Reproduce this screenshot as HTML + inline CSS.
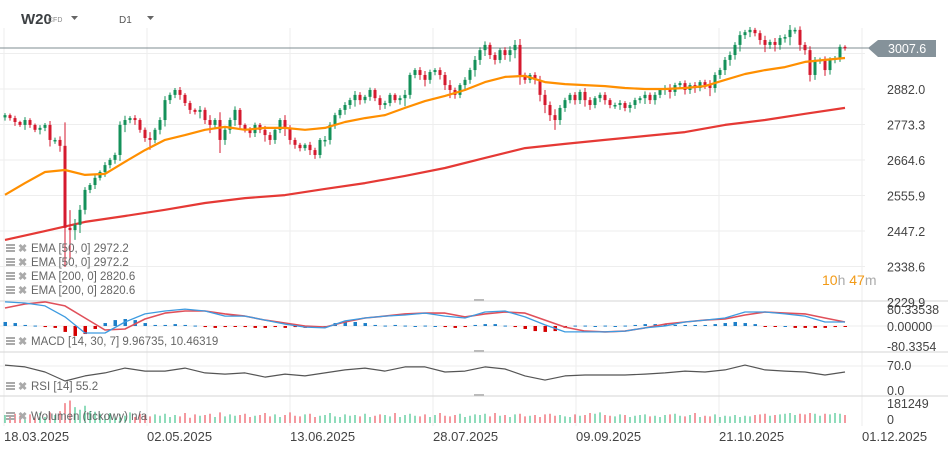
<!DOCTYPE html>
<html><head><meta charset="utf-8">
<style>
html,body{margin:0;padding:0;background:#fff;width:948px;height:449px;overflow:hidden;font-family:"Liberation Sans",sans-serif;}
svg{position:absolute;left:0;top:0;}
</style></head>
<body>
<svg id="chart" width="948" height="449" viewBox="0 0 948 449" xmlns="http://www.w3.org/2000/svg">
  <g id="grid"></g>
  <g id="header">
    <text x="21" y="24" font-size="15" font-weight="bold" fill="#3c4043">W20</text>
    <text x="48" y="22" font-size="7" fill="#888">CFD</text>
    <path d="M71 16 L78 16 L74.5 20 Z" fill="#666"/>
    <text x="119" y="23" font-size="10" fill="#555">D1</text>
    <path d="M147 16 L154 16 L150.5 20 Z" fill="#666"/>
  </g>
  <g id="ema200"></g>
  <g id="candles"></g>
  <g id="ema50"></g>
  <g id="macd"></g>
  <g id="rsi"></g>
  <g id="vol"></g>
  <g id="axes"></g>
  <g id="legend"></g>
</svg>
<script>
const NS="http://www.w3.org/2000/svg";
const closes=[2802,2793,2781,2772,2787,2772,2757,2763,2772,2726,2726,2708,2457,2450,2466,2512,2573,2588,2610,2628,
2649,2665,2680,2772,2787,2793,2787,2757,2732,2726,2757,2787,2848,2864,2879,2864,2839,2818,2812,2818,
2787,2772,2787,2726,2757,2787,2818,2772,2757,2747,2772,2757,2741,2726,2757,2787,2763,2726,2711,2701,
2711,2695,2680,2726,2726,2772,2802,2818,2833,2848,2864,2848,2858,2879,2854,2833,2839,2864,2848,2854,
2864,2925,2940,2925,2910,2934,2940,2925,2894,2879,2864,2894,2910,2940,2971,3001,3017,2986,2971,3001,
2986,3001,3017,2925,2910,2925,2910,2864,2833,2802,2787,2824,2848,2864,2848,2873,2848,2833,2854,2864,
2848,2833,2833,2839,2824,2833,2848,2854,2864,2848,2864,2879,2885,2873,2894,2900,2879,2894,2885,2903,
2894,2885,2925,2940,2971,2986,3017,3047,3056,3063,3053,3032,3017,3026,3017,3038,3041,3063,3063,3017,
3001,2925,2971,2971,2940,2971,2977,3011,3007.6];
const firstOpen=2795;
const wicks=[10,8,12,6,15,9,7,14,10,20,12,18,120,90,30,25,14,10,12,8,
15,10,12,18,22,10,15,9,12,30,10,14,20,12,10,15,9,12,8,20,
12,25,10,40,15,12,18,10,8,14,12,10,20,15,12,10,25,14,12,10,
8,15,12,10,20,14,12,10,15,12,20,14,10,12,9,15,12,10,8,14,
25,12,10,15,20,12,10,14,15,25,12,10,14,12,20,15,18,12,14,10,
15,20,25,30,12,10,14,20,25,18,30,15,12,10,14,12,20,15,10,12,
14,10,12,15,10,14,12,10,18,12,14,10,15,20,12,10,14,12,15,10,
12,25,14,12,15,18,14,20,12,15,10,14,22,12,20,15,14,25,12,18,
14,20,15,12,18,14,10,12,8];
const vol=[60,45,70,55,40,65,50,75,45,80,60,90,150,170,120,100,130,90,85,70,
60,75,50,65,55,80,45,70,60,50,65,55,70,45,60,50,75,40,65,55,
60,70,45,80,50,65,55,60,70,45,55,60,75,50,65,45,60,80,55,50,
65,70,45,55,60,75,50,45,65,55,60,50,70,45,55,65,60,50,75,45,
60,70,55,50,65,45,60,75,55,50,60,70,45,55,65,60,70,50,75,55,
60,45,65,70,50,55,60,45,65,70,55,60,50,45,65,55,60,75,70,80,
60,55,50,65,60,45,55,60,65,50,55,45,60,65,70,55,50,60,75,45,
55,50,65,45,55,50,60,45,55,50,60,65,70,55,60,65,70,75,60,70,
65,75,70,55,70,65,75,70,60];
const ema50=[2558,2594,2628,2634,2619,2622,2659,2695,2726,2741,2757,2766,2757,2763,2763,2757,2763,2781,2793,2802,2824,2845,2861,2879,2903,2919,2922,2903,2897,2894,2891,2885,2882,2882,2885,2891,2910,2928,2940,2949,2965,2971,2977];
const ema200=[2420,2447,2475,2493,2512,2533,2548,2557,2576,2594,2616,2640,2671,2701,2714,2726,2738,2750,2772,2787,2806,2824];
const macdLine=[114,109,95,43,-33,-33,19,57,71,80,71,47,47,28,9,-5,-9,24,38,47,52,61,47,38,66,71,43,5,-28,-28,-28,-24,-9,0,19,28,38,66,66,57,47,19,19];
const signalLine=[85,104,114,95,38,-19,-14,33,61,71,71,57,47,28,14,0,-5,19,38,47,57,61,61,43,57,66,61,28,-5,-24,-28,-24,-9,9,19,28,33,52,66,61,57,38,19];
const macdHist=[19,14,5,2,-5,-9,-28,-47,-38,-14,14,28,33,28,14,5,5,9,5,2,-5,-9,-5,-2,-5,-9,-9,-5,-9,-5,-9,-9,0,14,24,19,14,5,2,5,2,0,2,0,-5,-9,-5,5,9,9,2,-5,-14,-24,-28,-24,-9,2,2,0,2,0,2,5,9,9,9,5,5,5,5,9,14,19,14,9,-2,-2,0,-9,-9,-9,-9,-5,-2];
const rsiVals=[72,68,56,35,47,54,65,58,58,65,54,51,54,44,51,47,54,61,65,58,68,68,56,58,68,63,47,37,47,49,49,49,51,54,58,56,61,72,61,58,56,49,56];
const priceTicks=[2990.7,2882.0,2773.3,2664.6,2555.9,2447.2,2338.6,2229.9];
const dateLabels=["18.03.2025","02.05.2025","13.06.2025","28.07.2025","09.09.2025","21.10.2025","01.12.2025"];

const X0=5, STEP=5;
const xC=i=>X0+i*STEP;
const yP=p=>89+(2882-p)*0.3266;
const yM=v=>326-v/4.73;
const yR=v=>396-v*0.4286;
const yV=v=>423-v*24/181;
const GREEN="#14915a", RED="#d51a2f";
function mk(tag,attrs,parent){const e=document.createElementNS(NS,tag);for(const k in attrs)e.setAttribute(k,attrs[k]);parent.appendChild(e);return e;}
const g=id=>document.getElementById(id);

const grid=g('grid');
[4,147,290,433,576,719,862].forEach(x=>{const l=mk('line',{x1:x,x2:x,y1:28,y2:426,stroke:'#eeeeee','stroke-width':1},grid);

});
priceTicks.forEach(p=>{const y=yP(p);if(y<300){const l=mk('line',{x1:0,x2:865,y1:y,y2:y,stroke:'#eeeeee'},grid);

}});
[[301,'#d5d5d5'],[352,'#d5d5d5'],[396,'#d5d5d5'],[366,'#eeeeee'],[326,'#eeeeee']].forEach(([y,c])=>{const l=mk('line',{x1:0,x2:948,y1:y,y2:y,stroke:c},grid);

});
[299,350,394].forEach(y=>{const h=mk('rect',{x:474,y:y,width:10,height:2,fill:'#bbb'},grid);

});

const cpl=mk('line',{x1:0,x2:870,y1:yP(3007.6),y2:yP(3007.6),stroke:'#7f8c91','stroke-width':1},grid);



function poly(arr,step,yf,color,w,parent,name){
  const pts=arr.map((v,i)=>(X0+i*step)+','+yf(v).toFixed(1)).join(' ');
  const p=mk('polyline',{points:pts,fill:'none',stroke:color,'stroke-width':w,'stroke-linejoin':'round'},parent);
  
  
}
poly(ema200,40,yP,'#e53935',2.2,g('ema200'),'ema200-path');
poly(ema50,20,yP,'#ff8f00',2.2,g('ema50'),'ema50-path');

const cg=g('candles');
closes.forEach((c,i)=>{
  const o=i===0?firstOpen:closes[i-1];
  const col=c>=o?GREEN:RED;
  const hi=Math.max(o,c)+wicks[i]*0.6, lo=Math.min(o,c)-wicks[i];
  const x=xC(i);
  const w=mk('line',{x1:x,x2:x,y1:yP(hi),y2:yP(lo),stroke:col,'stroke-width':1},cg);
  
  
  const yt=yP(Math.max(o,c)), yb=yP(Math.min(o,c));
  const b=mk('rect',{x:x-1.5,y:yt,width:3,height:Math.max(1.5,yb-yt),fill:col},cg);
  
  
});

const mg=g('macd');
macdHist.forEach((v,i)=>{
  const x=X0+i*10, y0=yM(0), y1=yM(v);
  const r=mk('rect',{x:x-1.5,y:Math.min(y0,y1),width:3.5,height:Math.max(1,Math.abs(y1-y0)),fill:v>=0?'#1e7fc8':'#d50000'},mg);
  
  
});
poly(signalLine,20,yM,'#e0505a',1.6,mg,'macd-signal-line');
poly(macdLine,20,yM,'#3d9be0',1.3,mg,'macd-line');

poly(rsiVals,20,yR,'#555',1.2,g('rsi'),'rsi-line');

const vg=g('vol');
vol.forEach((v,i)=>{
  const o=i===0?firstOpen:closes[i-1];
  const x=xC(i);
  const l=mk('line',{x1:x,x2:x,y1:yV(v),y2:423,stroke:closes[i]>=o?'#1fb877':'#e8333f','stroke-width':1},vg);
  
  
});

const ax=g('axes');
priceTicks.forEach(p=>{
  if(p>2990)return;
  const t=mk('text',{x:887,y:yP(p)+5,'font-size':12.5,fill:'#444'},ax);
  t.textContent=p.toFixed(1);
  
  
});
const tag=mk('path',{d:`M868 ${yP(3007.6)} L878 40 L936 40 L936 57 L878 57 Z`,fill:'#85929a'},ax);


const tt=mk('text',{x:888,y:53,'font-size':12.5,fill:'#fff'},ax);
tt.textContent='3007.6';


[["80.33538",314],["0.00000",331],["-80.3354",351],["70.0",370],["0.0",395],["181249",408],["0",424]].forEach(([s,y])=>{
  const t=mk('text',{x:887,y:y,'font-size':12.5,fill:'#444'},ax);
  t.textContent=s;
  
  
});
dateLabels.forEach((d,i)=>{
  const t=mk('text',{x:4+i*143,y:441,'font-size':13,fill:'#444'},ax);
  t.textContent=d;
  
  
});
const cd=mk('text',{x:822,y:285,'font-size':14},ax);


cd.innerHTML='<tspan fill="#f29a16">10</tspan><tspan fill="#aaa">h </tspan><tspan fill="#f29a16">47</tspan><tspan fill="#aaa">m</tspan>';

const lg=g('legend');
function legendRow(y,text,name){
  const ic=mk('g',{},lg);
  
  
  [0,3,6].forEach(d=>mk('rect',{x:6,y:y-8+d,width:9,height:2,fill:'#aaa'},ic));
  const x=mk('text',{x:18,y:y,'font-size':11,fill:'#aaa','font-weight':'bold'},lg);
  x.textContent='✖';
  
  
  const t=mk('text',{x:31,y:y,'font-size':11.5,fill:'#666'},lg);
  t.textContent=text;
  
  
}
legendRow(252,'EMA [50, 0] 2972.2','ema50a');
legendRow(266,'EMA [50, 0] 2972.2','ema50b');
legendRow(280,'EMA [200, 0] 2820.6','ema200a');
legendRow(294,'EMA [200, 0] 2820.6','ema200b');
legendRow(345,'MACD [14, 30, 7] 9.96735, 10.46319','macd');
legendRow(390,'RSI [14] 55.2','rsi');
legendRow(420,'Wolumen (tickowy) n/a','volume');
</script>
</body></html>
